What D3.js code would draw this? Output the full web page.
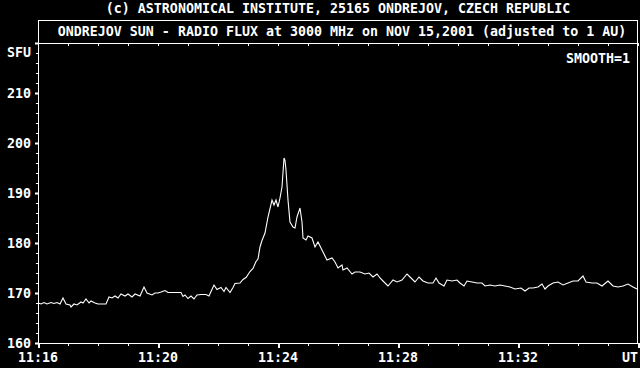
<!DOCTYPE html>
<html>
<head>
<meta charset="utf-8">
<script src="https://cdn.jsdelivr.net/npm/d3@7"></script>
<style>
	body { margin: 0; background: black; }
	svg text { font-family: 'DejaVu Sans Mono', monospace; font-weight: bold; font-size: 13.3px; fill: white; }
</style>
</head>
<body>
<svg class="svgChart" width="640" height="368"></svg>
<script>
// seconds after 11:16:00 UT
var secs = [0, 6, 12, 18, 26, 32, 38, 44, 50, 56, 64, 66, 72, 78, 86, 90, 96, 102, 106, 114, 120, 126, 136,
	142, 148, 154, 160, 166, 174, 180, 188, 194, 204, 212, 218, 228, 234, 240, 246, 254, 260, 266, 276,
	286, 290, 294, 300, 306, 312, 318, 326, 336, 342, 346, 352, 358, 366, 372, 376, 384, 390, 394, 404,
	410, 416, 424, 430, 436, 440, 444, 448, 454, 460, 468, 472, 476, 480, 484, 488, 492, 494, 496, 500,
	504, 510, 514, 518, 524, 528, 530, 536, 540, 548, 554, 560, 570, 578, 588, 594, 600, 608, 610, 618,
	628, 634, 644, 654, 662, 670, 678, 684, 694, 700, 710, 718, 728, 738, 744, 754, 762, 770, 780, 790,
	796, 802, 812, 818, 828, 838, 844, 852, 858, 868, 878, 888, 894, 904, 914, 924, 934, 944, 954, 966,
	974, 982, 990, 1000, 1008, 1014, 1020, 1030, 1040, 1050, 1060, 1070, 1080, 1090, 1096, 1108, 1118,
	1128, 1140, 1150, 1160, 1170, 1180, 1190, 1198];
var flux = [168.0, 167.8, 168.1, 167.8, 168.1, 167.9, 168.1, 167.8, 169.0, 167.8, 167.6, 167.2, 167.8, 167.6,
	168.2, 168.0, 168.8, 168.0, 168.4, 168.0, 167.8, 167.8, 167.8,
	169.2, 169.0, 169.4, 169.0, 169.8, 169.4, 169.8, 169.2, 169.8, 169.4, 171.2, 170.0, 169.6, 170.0,
	170.0, 170.2, 170.5, 170.1, 170.1, 170.1,
	170.1, 169.3, 169.6, 168.9, 169.4, 168.8, 169.6, 169.7, 169.7, 169.4, 170.3, 171.6, 170.7, 171.1, 170.3,
	171.1, 170.1, 171.1, 171.9, 172.0,
	172.7, 173.1, 174.3, 174.9, 176.3, 176.8, 179.2, 180.5, 182.0, 185.2, 188.6, 187.6, 188.6, 187.2, 189.0,
	191.2, 197.0, 196.5, 194.6, 188.6,
	184.2, 183.2, 183.0, 185.2, 187.0, 184.2, 181.0, 180.6, 181.4, 181.0, 179.2, 180.2, 178.2, 176.6, 177.0,
	176.2, 175.0, 175.6, 174.6,
	175.0, 173.8, 174.2, 174.2, 173.8, 174.0, 173.2, 173.8, 173.0, 172.0, 171.4, 172.6, 172.2, 172.6, 173.8,
	173.2, 172.2, 173.2, 172.4, 172.0,
	172.0, 173.0, 172.0, 171.4, 172.6, 172.4, 172.6, 172.0, 171.4, 172.4, 172.2, 172.0, 172.0, 171.4, 171.6,
	171.4, 171.6, 171.4, 171.2, 170.8,
	171.0, 170.4, 171.0, 171.0, 171.2, 171.8, 170.8, 171.4, 172.0, 172.2, 171.6, 172.0, 172.4, 172.4, 173.4,
	172.2, 172.0, 172.0,
	171.4, 172.4, 171.4, 171.2, 171.4, 171.8, 171.2, 170.8];
var xTicks = [0, 240, 480, 720, 960];
var xTickLabels = ['11:16', '11:20', '11:24', '11:28', '11:32'];
var yTicks = [160, 170, 180, 190, 200, 210];

var svg = d3.select('svg.svgChart');
var plotLeft = 38, plotRight = 638, plotTop = 43, plotBottom = 343;

var x = d3.scaleLinear().domain([0, 1200]).range([plotLeft, plotRight]);
var y = d3.scaleLinear().domain([160, 220]).range([plotBottom, plotTop]);

svg.append('rect').attr('width', 640).attr('height', 368).style('fill', 'black');

// titles
svg.append('text').attr('x', 338).attr('y', 13).attr('text-anchor', 'middle')
	.text('(c) ASTRONOMICAL INSTITUTE, 25165 ONDREJOV, CZECH REPUBLIC');
svg.append('rect').attr('x', plotLeft + 0.5).attr('y', 20.5).attr('width', plotRight - plotLeft - 1).attr('height', plotTop - 20)
	.style('fill', 'none').style('stroke', 'white');
svg.append('text').attr('x', 342).attr('y', 36).attr('text-anchor', 'middle')
	.text('ONDREJOV SUN - RADIO FLUX at 3000 MHz on NOV 15,2001 (adjusted to 1 AU)');

// frame
svg.append('rect').attr('x', plotLeft + 0.5).attr('y', plotTop + 0.5).attr('width', plotRight - plotLeft - 1).attr('height', plotBottom - plotTop)
	.style('fill', 'none').style('stroke', 'white');

// minute ticks, top and bottom
var minutes = d3.range(0, 1201, 60);
svg.append('g').selectAll('line').data(minutes).join('line')
	.attr('x1', d => Math.round(x(d)) + 0.5).attr('x2', d => Math.round(x(d)) + 0.5)
	.attr('y1', plotTop).attr('y2', plotTop + 3)
	.style('stroke', 'white');
svg.append('g').selectAll('line').data(minutes).join('line')
	.attr('x1', d => Math.round(x(d)) + (d % 240 == 0 ? 1 : 0.5)).attr('x2', d => Math.round(x(d)) + (d % 240 == 0 ? 1 : 0.5))
	.attr('y1', plotBottom).attr('y2', d => d % 240 == 0 ? plotBottom + 5 : plotBottom + 3)
	.style('stroke', 'white').style('stroke-width', d => d % 240 == 0 ? 2 : 1);

// value ticks, left
svg.append('g').selectAll('line').data(d3.range(160, 221, 2)).join('line')
	.attr('x1', d => d % 10 == 0 ? plotLeft - 3 : plotLeft - 2).attr('x2', plotLeft)
	.attr('y1', d => Math.round(y(d)) + 0.5).attr('y2', d => Math.round(y(d)) + 0.5)
	.style('stroke', 'white').style('stroke-width', d => d % 10 == 0 ? 2 : 1);

// labels
svg.append('g').selectAll('text').data(yTicks).join('text')
	.attr('x', 31).attr('y', d => y(d)).attr('dy', '0.35em').attr('text-anchor', 'end')
	.text(d => d);
svg.append('text').attr('x', 31).attr('y', 57).attr('text-anchor', 'end').text('SFU');
svg.append('g').selectAll('text').data(xTicks).join('text')
	.attr('x', (d, i) => x(d)).attr('y', 362).attr('text-anchor', 'middle')
	.text((d, i) => xTickLabels[i]);
svg.append('text').attr('x', 638).attr('y', 362).attr('text-anchor', 'end').text('UT');
svg.append('text').attr('x', 630).attr('y', 63).attr('text-anchor', 'end').text('SMOOTH=1');

// flux curve
var line = d3.line().x((d, i) => x(secs[i])).y(d => y(d));
svg.append('path').datum(flux).attr('d', line)
	.style('fill', 'none').style('stroke', 'white').style('stroke-width', 1.1);
</script>
</body>
</html>
